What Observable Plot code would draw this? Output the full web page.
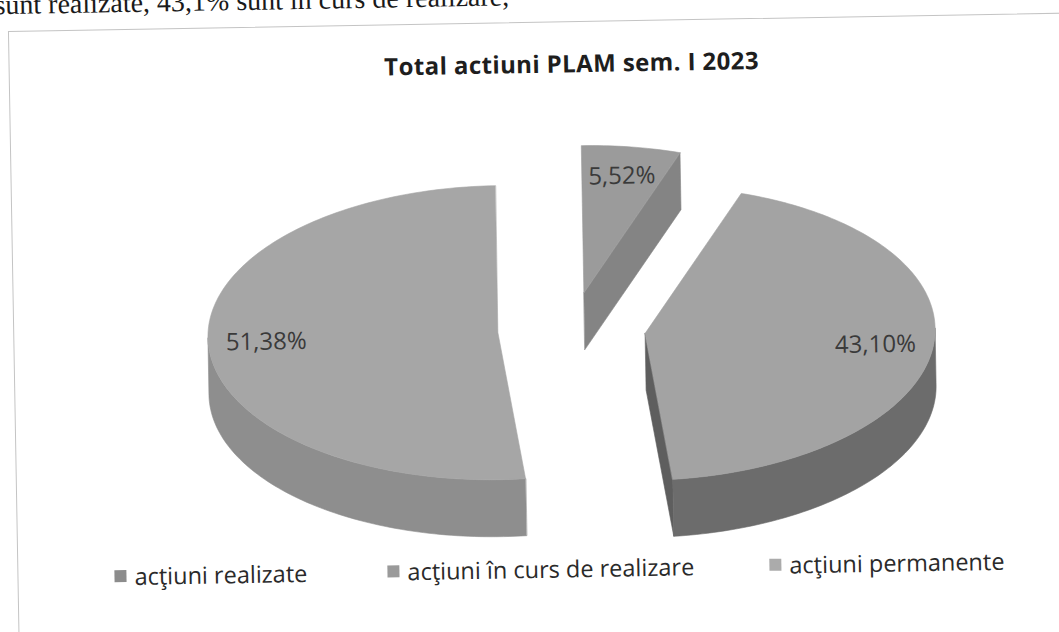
<!DOCTYPE html>
<html>
<head>
<meta charset="utf-8">
<script src="https://cdn.jsdelivr.net/npm/d3@7"></script>
<script src="https://cdn.jsdelivr.net/npm/@observablehq/plot@0.6"></script>
<style>
  html, body { margin: 0; padding: 0; background: #fff; overflow: hidden; }
  #page { position: absolute; left: 0; top: 0; width: 1059px; height: 632px; transform: rotate(-1deg); transform-origin: 530px 316px; }
  #bodytext { position: absolute; left: 0; top: -18px; font-family: "Liberation Serif", serif; font-size: 28px; line-height: 28px; color: #1a1a1a; white-space: nowrap; }
  #frame { position: absolute; left: 13px; top: 22px; width: 1100px; height: 700px; border: 1.5px solid #c4c4c4; box-sizing: border-box; }
  #title { position: absolute; left: 0; width: 1152px; top: 47px; text-align: center; font-family: "Open Sans", sans-serif; font-weight: bold; font-size: 24px; letter-spacing: 0.4px; color: #1e1e1e; }
  #chart { position: absolute; left: 0; top: 100px; }
  #legend { position: absolute; left: 0; top: 553px; font-family: "Open Sans", sans-serif; font-size: 23.5px; color: #2a2a2a; }
  .item { position: absolute; white-space: nowrap; display: flex; align-items: center; }
  .sw { width: 12px; height: 12px; margin-right: 8px; display: inline-block; }
</style>
</head>
<body>
<div id="page">
  <div id="bodytext">sunt realizate, 43,1% sunt în curs de realizare,</div>
  <div id="frame"></div>
  <div id="title"></div>
  <div id="chart"></div>
  <div id="legend"></div>
</div>
<script>
// ---- data ----
const title = "Total actiuni PLAM sem. I 2023";
const categories = ["acţiuni realizate", "acţiuni în curs de realizare", "acţiuni permanente"];
const values = [51.38, 43.10, 5.52];
const labels = ["51,38%", "43,10%", "5,52%"];
// clockwise order of slices starting at 12 o'clock (indices into categories)
const sliceOrder = [2, 1, 0];

// ---- styles ----
const legendColors = ["#8c8c8c", "#9a9a9a", "#ababab"];
const topColors = ["#a6a6a6", "#a3a3a3", "#9b9b9b"];
const sideColors = ["#8e8e8e", "#6c6c6c", "#878787"];
const radialColors = ["#8e8e8e", "#5e5e5e", "#848484"];

// geometry (in pie units: 1 = radius)
const W = 1059, H = 460;
const rxPx = 290, ryPx = 147;
const cxPx = 571, cyPx = 230;
const thick = 57 / ryPx;
const explode = 0.255;
const labelR = 0.8;

document.getElementById("title").textContent = title;

const total = d3.sum(values);
let acc = 0;
const slices = sliceOrder.map(i => {
  const a0 = acc / total * 2 * Math.PI;
  acc += values[i];
  const a1 = acc / total * 2 * Math.PI;
  const b = (a0 + a1) / 2;
  return {i, a0, a1, b, cx: explode * Math.sin(b), cy: explode * Math.cos(b)};
});

const rim = (s, a, dz = 0) => ({x: s.cx + Math.sin(a), y: s.cy + Math.cos(a) - dz});
const arcPts = (s, from, to, dz = 0) => {
  const n = Math.max(2, Math.ceil((to - from) / 0.02));
  return d3.range(n + 1).map(k => rim(s, from + (to - from) * k / n, dz));
};

const marks = [];
const poly = (pts, color) => marks.push(Plot.line(pts, {x: "x", y: "y", fill: color, stroke: color, strokeWidth: 0.6, curve: "linear-closed"}));

for (const s of slices) {
  const c = {x: s.cx, y: s.cy};
  const cb = {x: s.cx, y: s.cy - thick};
  // radial faces
  if (Math.sin(s.a0) < -1e-6) poly([c, rim(s, s.a0), rim(s, s.a0, thick), cb], radialColors[s.i]);
  if (Math.sin(s.a1) > 1e-6) poly([c, rim(s, s.a1), rim(s, s.a1, thick), cb], radialColors[s.i]);
  // outer side (front half)
  const f0 = Math.max(s.a0, Math.PI / 2), f1 = Math.min(s.a1, 3 * Math.PI / 2);
  if (f1 > f0) poly([...arcPts(s, f0, f1), ...arcPts(s, f0, f1, thick).reverse()], sideColors[s.i]);
  // top face
  poly([c, ...arcPts(s, s.a0, s.a1)], topColors[s.i]);
}

const labelData = slices.map(s => ({x: s.cx + labelR * Math.sin(s.b), y: s.cy + labelR * Math.cos(s.b), text: labels[s.i]}));
marks.push(Plot.text(labelData, {x: "x", y: "y", text: "text", fontSize: 24, fill: "#3a3a3a", fontFamily: "'Open Sans', sans-serif"}));

const chart = Plot.plot({
  width: W, height: H,
  margin: 0,
  x: {domain: [-cxPx / rxPx, (W - cxPx) / rxPx], axis: null},
  y: {domain: [-(H - cyPx) / ryPx, cyPx / ryPx], axis: null},
  style: {background: "transparent"},
  marks
});
document.getElementById("chart").appendChild(chart);

// legend
const legendX = [110, 383, 765];
const legend = document.getElementById("legend");
categories.forEach((c, k) => {
  const d = document.createElement("div");
  d.className = "item";
  d.style.left = legendX[k] + "px";
  d.innerHTML = `<span class="sw" style="background:${legendColors[k]}"></span><span>${c}</span>`;
  legend.appendChild(d);
});
</script>
</body>
</html>
